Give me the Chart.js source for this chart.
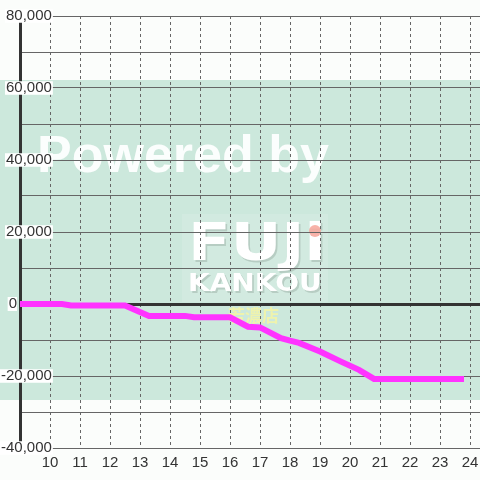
<!DOCTYPE html>
<html>
<head>
<meta charset="utf-8">
<script src="https://cdn.jsdelivr.net/npm/chart.js@4/dist/chart.umd.min.js"></script>
<style>
  body { margin: 0; background: #fbfdfb; }
  #chart { display: block; }
</style>
</head>
<body>
<canvas id="chart" width="480" height="480"></canvas>
<script>
// hours on the x axis, running total on the y axis
const hours = [8.9, 10.4, 10.7, 12.5, 13.3, 14.5, 14.8, 16.0, 16.6, 17.0, 17.7, 18.0, 18.3, 19.0, 19.7, 20.3, 20.8, 23.8];
const totals = [0, 0, -400, -400, -3300, -3300, -3700, -3700, -6300, -6500, -9500, -10200, -10800, -13200, -16000, -18300, -20800, -20800];
const xTicks = [10, 11, 12, 13, 14, 15, 16, 17, 18, 19, 20, 21, 22, 23, 24];
const yLabels = [-40000, -20000, 20000, 40000, 60000, 80000];

const font = "'Liberation Sans', Arial, sans-serif";

// watermark behind the grid
const watermark = {
  id: "watermark",
  beforeDraw(chart) {
    const ctx = chart.ctx;
    ctx.save();
    ctx.fillStyle = "#fbfdfb";
    ctx.fillRect(0, 0, chart.width, chart.height);
    ctx.fillStyle = "#cce8dc";
    ctx.fillRect(0, 80, chart.width, 320);

    ctx.fillStyle = "rgba(255,255,255,0.92)";
    ctx.textBaseline = "alphabetic";
    ctx.font = "bold 52px " + font;
    ctx.fillText("Powered by", 37, 172);

    ctx.fillStyle = "rgba(255,255,255,0.12)";
    ctx.fillRect(182, 214, 146, 88);

    ctx.save();
    ctx.translate(188, 260);
    ctx.scale(1.2, 1);
    ctx.font = "bold 52px 'DejaVu Sans'";
    ctx.fillStyle = "rgba(150,170,160,0.45)";
    ctx.fillText("FUJi", 1.5, 2);
    ctx.fillStyle = "#fff";
    ctx.fillText("FUJi", 0, 0);
    ctx.restore();

    ctx.fillStyle = "rgba(247,170,160,0.9)";
    ctx.beginPath();
    ctx.arc(315, 231, 6, 0, Math.PI * 2);
    ctx.fill();

    ctx.save();
    ctx.translate(188, 291);
    ctx.scale(1.12, 1);
    ctx.font = "bold 25px 'DejaVu Sans'";
    ctx.fillStyle = "rgba(150,170,160,0.45)";
    ctx.fillText("KANKOU", 1.5, 2);
    ctx.fillStyle = "#fff";
    ctx.fillText("KANKOU", 0, 0);
    ctx.restore();

    ctx.fillStyle = "rgba(240,243,170,0.95)";
    ctx.font = "bold 17px 'Noto Sans CJK JP'";
    ctx.fillText("若濃店", 228, 322);
    ctx.restore();
  },
  afterDraw(chart) {
    // the zero label sits left of the axis
    const ctx = chart.ctx;
    const y = chart.scales.y.getPixelForValue(0);
    ctx.save();
    ctx.font = "15px " + font;
    ctx.textAlign = "right";
    ctx.textBaseline = "middle";
    const w = ctx.measureText("0").width;
    ctx.fillStyle = "#fff";
    ctx.fillRect(17 - w - 1, y - 7, w + 1, 14);
    ctx.fillStyle = "#333";
    ctx.fillText("0", 17, y);
    ctx.restore();
  }
};

new Chart(document.getElementById("chart"), {
  type: "line",
  data: {
    datasets: [{
      data: hours.map((h, i) => ({ x: h, y: totals[i] })),
      borderColor: "#ff33ff",
      borderWidth: 6,
      pointRadius: 0,
      tension: 0,
      fill: false
    }]
  },
  options: {
    responsive: false,
    animation: false,
    devicePixelRatio: 1,
    layout: { padding: { top: 16, right: 0, left: 0, bottom: 0 } },
    plugins: { legend: { display: false }, tooltip: { enabled: false } },
    scales: {
      x: {
        type: "linear",
        min: 9,
        max: 24 + 1 / 3,
        afterBuildTicks(scale) {
          scale.ticks = xTicks.map(v => ({ value: v }));
        },
        afterFit(scale) {
          scale.height = 32;
          scale.paddingLeft = 0;
          scale.paddingRight = 0;
        },
        grid: { color: "#666", lineWidth: 1, drawTicks: false },
        border: { display: false, dash: [3, 3] },
        ticks: {
          padding: 6,
          color: "#333",
          font: { family: font, size: 15 },
          maxRotation: 0,
          autoSkip: false
        }
      },
      y: {
        min: -40000,
        max: 80000,
        afterFit(scale) { scale.width = 20; },
        grid: {
          drawTicks: false,
          color: c => c.tick && c.tick.value === 0 ? "#333" : "#666",
          lineWidth: c => c.tick && c.tick.value === 0 ? 3 : 1
        },
        border: { display: true, color: "#333", width: 3 },
        ticks: {
          stepSize: 10000,
          mirror: true,
          crossAlign: "far",
          padding: -19,
          color: "#333",
          font: { family: font, size: 15, lineHeight: 0.9 },
          showLabelBackdrop: true,
          backdropPadding: { x: 1, y: 0 },
          backdropColor: c => c.tick && yLabels.includes(c.tick.value) ? "#fff" : "rgba(0,0,0,0)",
          callback: v => yLabels.includes(v) ? v.toLocaleString("en-US") : ""
        }
      }
    }
  },
  plugins: [watermark]
});
</script>
</body>
</html>
